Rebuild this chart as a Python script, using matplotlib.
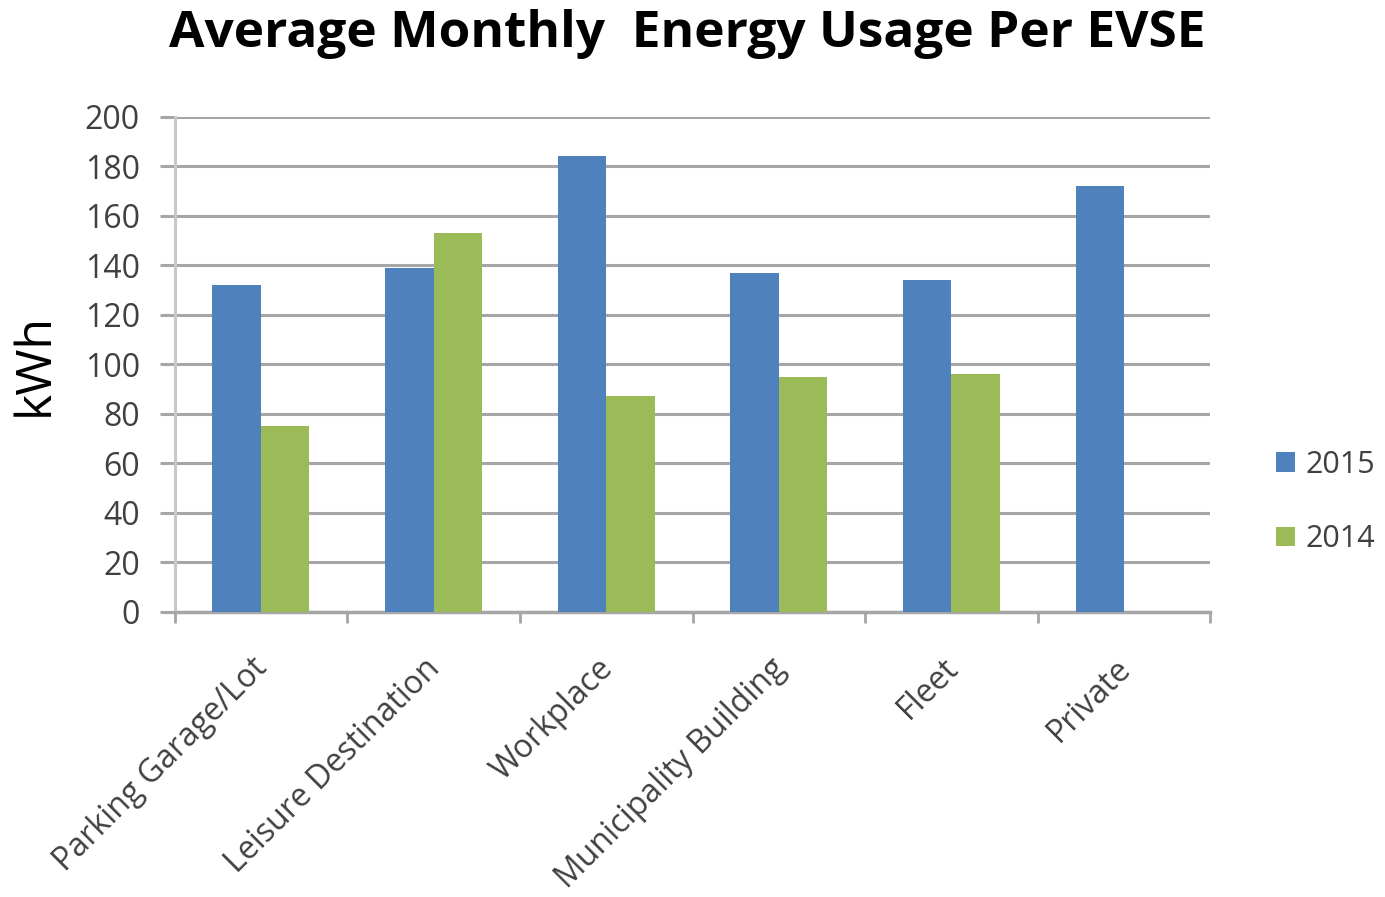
import numpy as np
from matplotlib import pyplot as plt
from matplotlib.transforms import ScaledTranslation

categories = ["Parking Garage/Lot", "Leisure Destination", "Workplace",
              "Municipality Building", "Fleet", "Private"]
usage_2015 = [132, 139, 184, 137, 134, 172]
usage_2014 = [75, 153, 87, 95, 96, 0]
y_ticks = [0, 20, 40, 60, 80, 100, 120, 140, 160, 180, 200]

blue = '#4F81BD'
green = '#9BBB59'
grid_gray = '#A6A6A6'

plt.rcParams['font.family'] = ['Open Sans', 'DejaVu Sans']

fig = plt.figure(figsize=(13.85, 8.97), dpi=100)
ax = fig.add_axes([0.126, 0.318, 0.748, 0.552])

x = np.arange(len(categories))
w = 0.28
ax.bar(x - w / 2, usage_2015, w, color=blue, label='2015', zorder=3)
ax.bar(x + w / 2, usage_2014, w, color=green, label='2014', zorder=3)

ax.set_xlim(-0.5, len(categories) - 0.5)
ax.set_ylim(0, 200)
ax.set_yticks(y_ticks)
ax.yaxis.grid(True, color=grid_gray, linewidth=2.2, zorder=0)
ax.tick_params(axis='y', length=11, width=2.2, color=grid_gray,
               labelsize=23, labelcolor='#404040', pad=14)

ax.set_xticks(x)
ax.set_xticklabels(categories, rotation=45, ha='right', va='top',
                   rotation_mode='anchor', fontsize=23, color='#404040')
ax.tick_params(axis='x', length=0, pad=29)
shift = ScaledTranslation(-10 / 100, 0, fig.dpi_scale_trans)
for lbl in ax.get_xticklabels():
    lbl.set_transform(lbl.get_transform() + shift)
ax.set_xticks(np.arange(-0.5, len(categories)), minor=True)
ax.tick_params(axis='x', which='minor', length=8, width=2, color=grid_gray)

for side in ['top', 'right']:
    ax.spines[side].set_visible(False)
ax.spines['left'].set_color('#C8C8C8')
ax.spines['left'].set_linewidth(2.2)
ax.spines['bottom'].set_color(grid_gray)
ax.spines['bottom'].set_linewidth(2.5)

ax.set_ylabel('kWh', fontsize=36, labelpad=18)
fig.suptitle('Average Monthly  Energy Usage Per EVSE', x=0.496, y=0.99,
             fontsize=37, fontweight='bold')

ax.legend(loc='center left', bbox_to_anchor=(1.037, 0.222), frameon=False,
          fontsize=22, handlelength=0.6, handleheight=0.6,
          labelspacing=1.45, handletextpad=0.35, labelcolor='#404040')

fig.savefig('out.png', dpi=100)
